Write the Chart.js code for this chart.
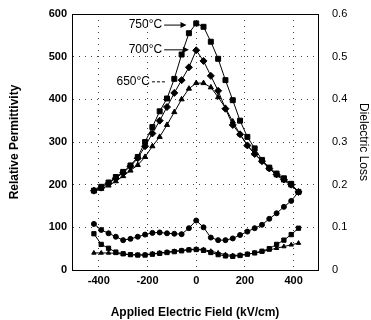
<!DOCTYPE html>
<html lang="en">
<head>
    <meta charset="UTF-8">
    <title>Permittivity and Dielectric Loss vs Field</title>
    <script src="https://cdn.jsdelivr.net/npm/chart.js"></script>
    <style>
        html, body { margin: 0; padding: 0; background: #fff; }
        #wrap { width: 371px; height: 320px; }
    </style>
</head>
<body>
    <div id="wrap"><canvas id="chart"></canvas></div>

    <script>
        // Applied field sample points (kV/cm)
        const field = [-420, -390, -360, -330, -300, -270, -240, -210, -180, -150, -120, -90, -60, -30,
                       0, 30, 60, 90, 120, 150, 180, 210, 240, 270, 300, 330, 360, 390, 420];

        // Relative permittivity (left axis)
        const eps750 = [186, 195, 205, 218, 230, 245, 265, 300, 335, 372, 402, 448, 505, 555,
                        578, 570, 535, 495, 445, 398, 350, 312, 285, 258, 240, 226, 215, 202, 183];
        const eps700 = [186, 193, 203, 215, 228, 243, 262, 290, 320, 350, 382, 415, 445, 475,
                        515, 490, 455, 420, 378, 340, 318, 292, 272, 255, 238, 224, 212, 200, 183];
        const eps650 = [186, 190, 198, 208, 220, 233, 246, 265, 290, 312, 340, 370, 400, 425,
                        438, 438, 428, 405, 380, 348, 318, 292, 272, 255, 238, 222, 210, 198, 183];

        // Dielectric loss (right axis)
        const lossA = [0.108, 0.094, 0.086, 0.078, 0.070, 0.073, 0.078, 0.083, 0.087, 0.088, 0.086, 0.085, 0.084, 0.098,
                       0.116, 0.100, 0.076, 0.070, 0.070, 0.074, 0.082, 0.090, 0.098, 0.106, 0.120, 0.133, 0.148, 0.162, 0.183];
        const lossB = [0.085, 0.060, 0.051, 0.042, 0.038, 0.036, 0.035, 0.035, 0.037, 0.039, 0.041, 0.043, 0.045, 0.047,
                       0.048, 0.046, 0.041, 0.036, 0.033, 0.032, 0.034, 0.037, 0.040, 0.044, 0.050, 0.060, 0.070, 0.083, 0.098];
        const lossC = [0.040, 0.040, 0.040, 0.039, 0.037, 0.036, 0.035, 0.036, 0.038, 0.040, 0.042, 0.044, 0.046, 0.048,
                       0.049, 0.048, 0.044, 0.040, 0.036, 0.034, 0.035, 0.037, 0.040, 0.043, 0.047, 0.051, 0.055, 0.059, 0.063];

        // Tick labels
        const xTicks = [-400, -200, 0, 200, 400];
        const epsTicks = [0, 100, 200, 300, 400, 500, 600];
        const lossTicks = [0, 0.1, 0.2, 0.3, 0.4, 0.5, 0.6];

        // Temperature labels
        const tempLabels = ['750°C', '700°C', '650°C'];

        const FONT = "'Liberation Sans', Arial, sans-serif";

        const pts = arr => arr.map((v, i) => ({ x: field[i], y: v }));

        function series(data, axis, style, radius) {
            return {
                data: pts(data),
                yAxisID: axis,
                borderColor: '#000',
                backgroundColor: '#000',
                borderWidth: 1,
                pointStyle: style,
                pointRadius: radius,
                pointBorderWidth: 1,
                tension: 0
            };
        }

        // Labels with arrows pointing at the curves (data coordinates)
        const arrowLabels = {
            id: 'arrowLabels',
            afterDatasetsDraw(chart) {
                const { ctx, scales } = chart;
                const xs = scales.x, ys = scales.yEps;
                const items = [
                    { text: tempLabels[0], x: -140, y: 574, to: -40, dash: [] },
                    { text: tempLabels[1], x: -140, y: 516, to: -30, dash: [] },
                    { text: tempLabels[2], x: -190, y: 441, to: -105, dash: [3, 2] }
                ];
                ctx.save();
                ctx.font = '12px ' + FONT;
                ctx.fillStyle = '#000';
                ctx.strokeStyle = '#000';
                ctx.textAlign = 'right';
                ctx.textBaseline = 'middle';
                items.forEach(it => {
                    const px = xs.getPixelForValue(it.x);
                    const py = ys.getPixelForValue(it.y);
                    const ex = xs.getPixelForValue(it.to);
                    ctx.fillText(it.text, px, py);
                    ctx.setLineDash(it.dash);
                    ctx.lineWidth = 1;
                    ctx.beginPath();
                    ctx.moveTo(px + 2, py);
                    ctx.lineTo(ex - 4, py);
                    ctx.stroke();
                    ctx.setLineDash([]);
                    if (it.dash.length === 0) {
                        ctx.beginPath();
                        ctx.moveTo(ex, py);
                        ctx.lineTo(ex - 6, py - 3);
                        ctx.lineTo(ex - 6, py + 3);
                        ctx.closePath();
                        ctx.fill();
                    }
                });
                ctx.restore();
            }
        };

        // Full frame round the plot area
        const frame = {
            id: 'frame',
            afterDraw(chart) {
                const { ctx, chartArea: a } = chart;
                ctx.save();
                ctx.strokeStyle = '#000';
                ctx.lineWidth = 1;
                ctx.strokeRect(a.left + 0.5, a.top + 0.5, a.right - a.left, a.bottom - a.top);
                ctx.restore();
            }
        };

        const gridStyle = {
            color: '#444',
            lineWidth: 1,
            drawTicks: false
        };

        new Chart(document.getElementById('chart'), {
            type: 'line',
            data: {
                datasets: [
                    series(eps750, 'yEps', 'rect', 3.5),
                    series(eps700, 'yEps', 'rectRot', 3.5),
                    series(eps650, 'yEps', 'triangle', 3),
                    series(lossA, 'yLoss', 'circle', 2.5),
                    series(lossB, 'yLoss', 'rect', 3),
                    series(lossC, 'yLoss', 'triangle', 2.5)
                ]
            },
            options: {
                responsive: true,
                maintainAspectRatio: false,
                animation: false,
                layout: { padding: { top: 14, left: 0, right: 0, bottom: 0 } },
                plugins: { legend: { display: false }, tooltip: { enabled: false } },
                scales: {
                    x: {
                        type: 'linear',
                        min: -510,
                        max: 500,
                        afterBuildTicks: s => { s.ticks = xTicks.map(v => ({ value: v })); },
                        afterFit: s => { s.height = 50; },
                        grid: gridStyle,
                        border: { color: '#000', width: 1, dash: [1, 5] },
                        ticks: { color: '#000', padding: 4, font: { family: FONT, size: 11, weight: 'bold' } },
                        title: {
                            display: true,
                            text: 'Applied Electric Field (kV/cm)',
                            color: '#000',
                            padding: { top: 6, bottom: 0 },
                            font: { family: FONT, size: 12, weight: 'bold' }
                        }
                    },
                    yEps: {
                        position: 'left',
                        min: 0,
                        max: 600,
                        afterBuildTicks: s => { s.ticks = epsTicks.map(v => ({ value: v })); },
                        afterFit: s => { s.width = 72; },
                        grid: gridStyle,
                        border: { color: '#000', width: 1, dash: [1, 5] },
                        ticks: { color: '#000', padding: 5, font: { family: FONT, size: 11, weight: 'bold' } },
                        title: {
                            display: true,
                            text: 'Relative Permittivity',
                            color: '#000',
                            padding: { top: 7, bottom: 0 },
                            font: { family: FONT, size: 12, weight: 'bold' }
                        }
                    },
                    yLoss: {
                        position: 'right',
                        min: 0,
                        max: 0.6,
                        afterBuildTicks: s => { s.ticks = lossTicks.map(v => ({ value: v })); },
                        afterFit: s => { s.width = 53; },
                        grid: { display: false },
                        border: { color: '#000', width: 1 },
                        ticks: { color: '#000', padding: 6, font: { family: FONT, size: 11 } },
                        title: {
                            display: true,
                            text: 'Dielectric Loss',
                            color: '#000',
                            padding: { top: 0, bottom: 2 },
                            font: { family: FONT, size: 12 }
                        }
                    }
                }
            },
            plugins: [arrowLabels, frame]
        });
    </script>
</body>
</html>
